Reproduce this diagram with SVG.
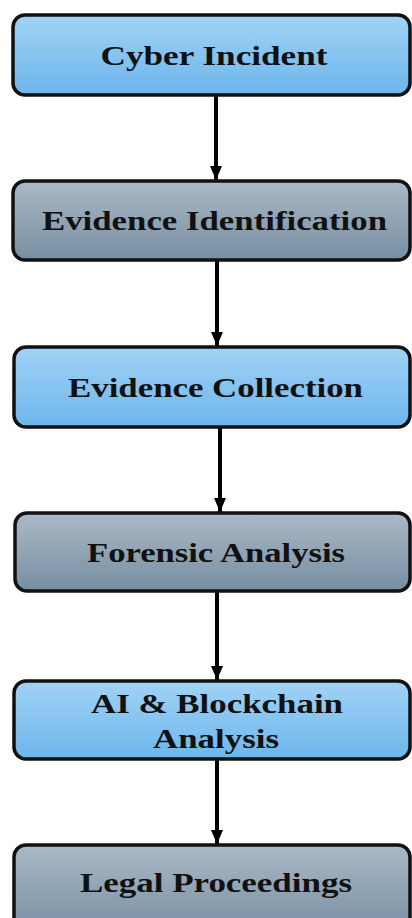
<svg xmlns="http://www.w3.org/2000/svg" width="412" height="918" viewBox="0 0 412 918">
<defs>
<linearGradient id="gBlue" x1="0" y1="0" x2="0" y2="1">
<stop offset="0" stop-color="#a2d2f5"/>
<stop offset="1" stop-color="#6cb6ec"/>
</linearGradient>
<linearGradient id="gGrey" x1="0" y1="0" x2="0" y2="1">
<stop offset="0" stop-color="#abb9c5"/>
<stop offset="1" stop-color="#778ea2"/>
</linearGradient>
<marker id="arrow" viewBox="0 0 14 12" refX="14" refY="6" markerWidth="14" markerHeight="12" markerUnits="userSpaceOnUse" orient="auto">
<path d="M0,0 L14,6 L0,12 Z" fill="#000"/>
</marker>
<style>
.box{stroke:#111;stroke-width:3.5}
.blue{fill:url(#gBlue)}
.grey{fill:url(#gGrey)}
.lbl{font-family:"Liberation Serif","Times New Roman",serif;font-weight:bold;font-size:28px;fill:#111;text-anchor:middle}
.conn{stroke:#000;stroke-width:4;fill:none;marker-end:url(#arrow)}
</style>
</defs>
<rect width="412" height="918" fill="#fff"/>
<g id="connectors">
<line class="conn" x1="216" y1="96" x2="216" y2="180"/>
<line class="conn" x1="217" y1="261" x2="217" y2="346"/>
<line class="conn" x1="220" y1="428" x2="220" y2="512"/>
<line class="conn" x1="217" y1="592" x2="217" y2="680"/>
<line class="conn" x1="217" y1="760" x2="217" y2="844"/>
</g>
<g id="cyber-incident">
<rect class="box blue" x="13" y="15" width="397" height="80" rx="12"/>
<text class="lbl" x="214" y="65" textLength="227" lengthAdjust="spacingAndGlyphs">Cyber Incident</text>
</g>
<g id="evidence-identification">
<rect class="box grey" x="13" y="181" width="397" height="79" rx="12"/>
<text class="lbl" x="214.5" y="230" textLength="345" lengthAdjust="spacingAndGlyphs">Evidence Identification</text>
</g>
<g id="evidence-collection">
<rect class="box blue" x="14" y="347" width="396" height="80" rx="12"/>
<text class="lbl" x="215.5" y="397" textLength="295" lengthAdjust="spacingAndGlyphs">Evidence Collection</text>
</g>
<g id="forensic-analysis">
<rect class="box grey" x="15" y="513" width="395" height="78" rx="12"/>
<text class="lbl" x="216" y="562" textLength="258" lengthAdjust="spacingAndGlyphs">Forensic Analysis</text>
</g>
<g id="ai-blockchain-analysis">
<rect class="box blue" x="14" y="681" width="396" height="78" rx="12"/>
<text class="lbl" x="217" y="713" textLength="252" lengthAdjust="spacingAndGlyphs">AI &amp; Blockchain</text>
<text class="lbl" x="216" y="748" textLength="126" lengthAdjust="spacingAndGlyphs">Analysis</text>
</g>
<g id="legal-proceedings">
<rect class="box grey" x="14" y="845" width="396" height="90" rx="12"/>
<text class="lbl" x="216" y="892" textLength="272" lengthAdjust="spacingAndGlyphs">Legal Proceedings</text>
</g>
</svg>
